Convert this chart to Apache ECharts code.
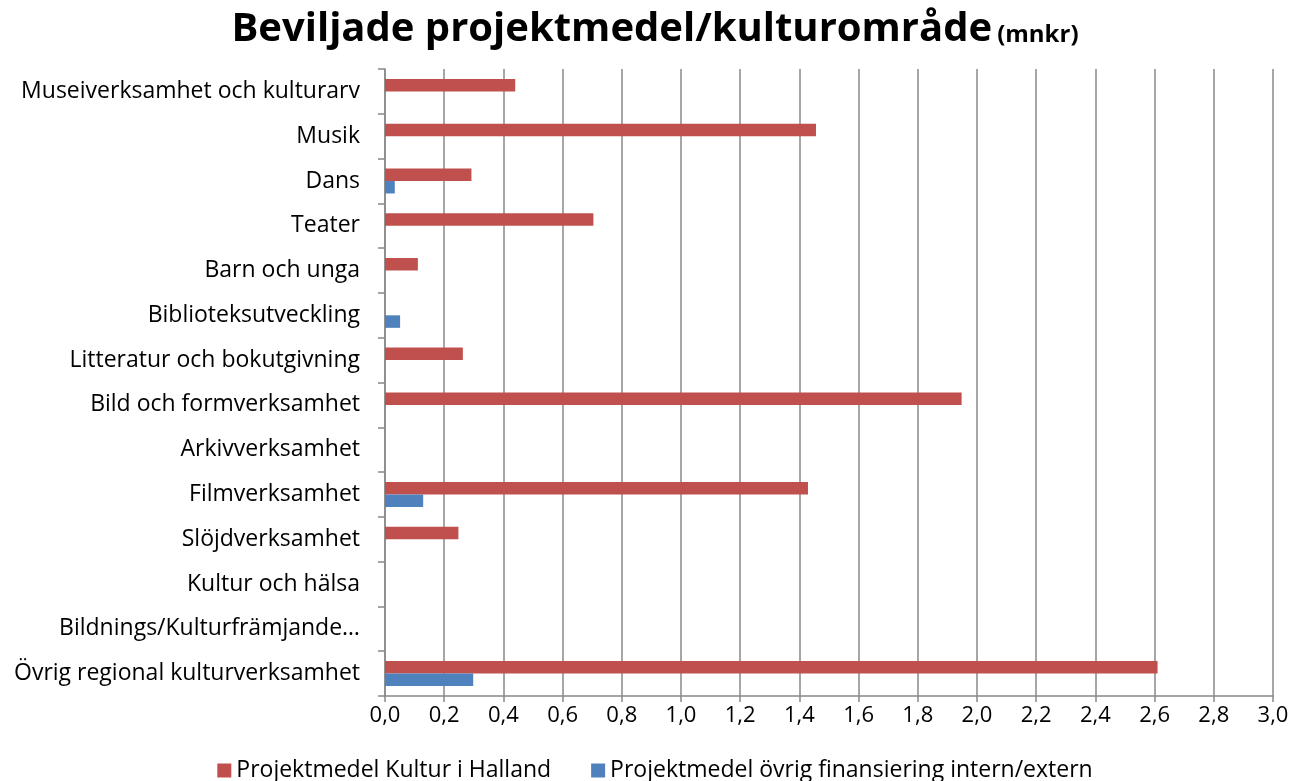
<!DOCTYPE html>
<html><head><meta charset="utf-8">
<script src="https://cdn.jsdelivr.net/npm/echarts@6/dist/echarts.min.js"></script>
<style>html,body{margin:0;padding:0;background:#fff}#c{width:1310px;height:781px}</style>
</head><body><div id="c"></div>
<script>
const categories = ["Museiverksamhet och kulturarv","Musik","Dans","Teater","Barn och unga","Biblioteksutveckling","Litteratur och bokutgivning","Bild och formverksamhet","Arkivverksamhet","Filmverksamhet","Slöjdverksamhet","Kultur och hälsa","Bildnings/Kulturfrämjande…","Övrig regional kulturverksamhet"];
const seriesNames = ["Projektmedel Kultur i Halland","Projektmedel övrig finansiering intern/extern"];
const kulturHalland = [0.44,1.456,0.292,0.704,0.111,0,0.263,1.948,0,1.429,0.248,0,0,2.61];
const ovrigFinansiering = [0,0,0.033,0,0,0.051,0,0,0,0.129,0,0,0,0.298];
const xMin = 0, xMax = 3.0, xStep = 0.2;

const font = '"Open Sans", Lato, sans-serif';
const chart = echarts.init(document.getElementById('c'));
chart.setOption({
  animation:false,
  backgroundColor:'#fff',
  title:{
    text:'{a|Beviljade projektmedel/kulturområde} {b|(mnkr)}',
    left:'center', top:5,
    textStyle:{rich:{
      a:{fontFamily:font,fontSize:40,fontWeight:'bold',color:'#000'},
      b:{fontFamily:font,fontSize:24,fontWeight:'bold',color:'#000',padding:[10,0,0,0]}
    }}
  },
  grid:{left:385,right:37,top:69,bottom:85,containLabel:false},
  legend:{
    top:754,left:'center',itemWidth:14,itemHeight:14,itemGap:40,icon:'rect',
    textStyle:{fontFamily:font,fontSize:23,color:'#000'},
    data:seriesNames
  },
  xAxis:{
    type:'value',min:xMin,max:xMax,interval:xStep,
    axisLine:{show:true,lineStyle:{color:'#888',width:1.5}},
    axisTick:{show:true,length:6,lineStyle:{color:'#888',width:1.5}},
    axisLabel:{fontFamily:font,fontSize:22,color:'#000',margin:9,
      formatter:v=>v.toFixed(1).replace('.',',')},
    splitLine:{show:true,lineStyle:{color:'#888',width:1.5}}
  },
  yAxis:{
    type:'category',data:categories,inverse:true,
    axisLine:{show:true,lineStyle:{color:'#888',width:1.5}},
    axisTick:{show:true,length:7,lineStyle:{color:'#888',width:1.5}},
    axisLabel:{fontFamily:font,fontSize:23,color:'#000',margin:25},
    splitLine:{show:false}
  },
  series:[
    {name:seriesNames[0],type:'bar',data:kulturHalland,barWidth:12.5,barGap:'0%',
     itemStyle:{color:'#C0504D'}},
    {name:seriesNames[1],type:'bar',data:ovrigFinansiering,barWidth:12.5,barGap:'0%',
     itemStyle:{color:'#4F81BD'}}
  ]
});
</script></body></html>
